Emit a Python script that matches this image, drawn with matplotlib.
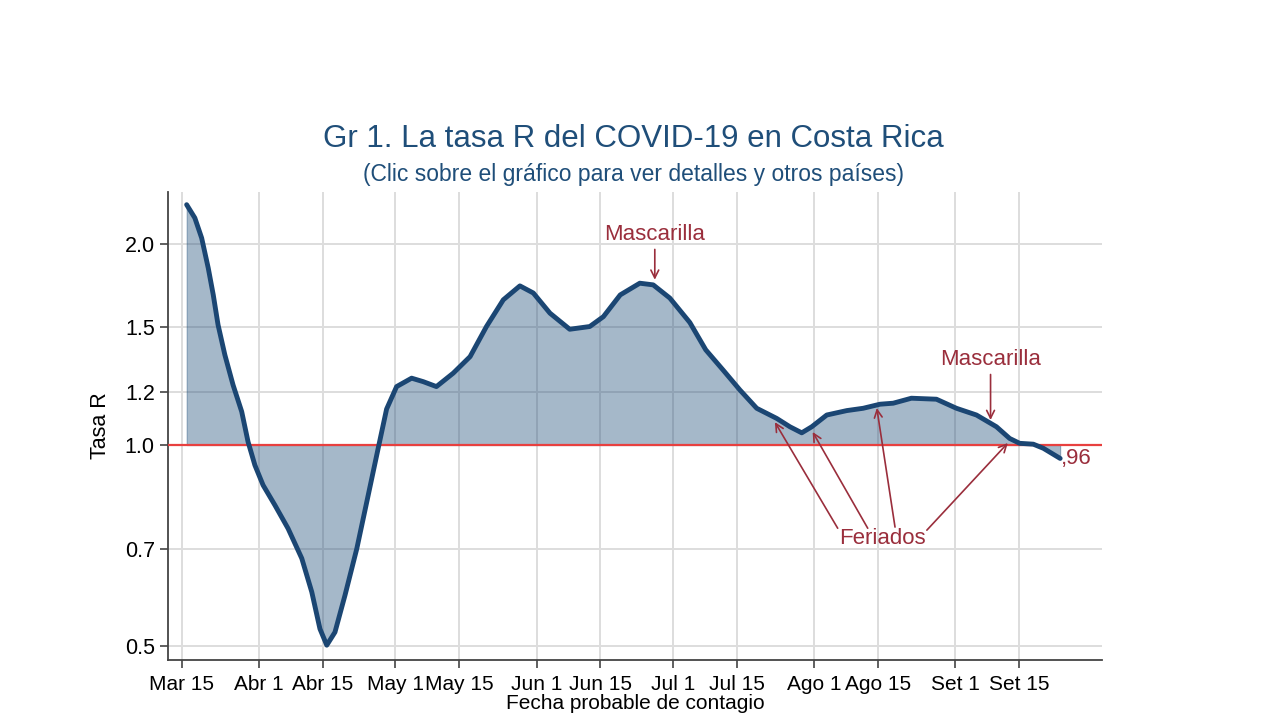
import matplotlib.pyplot as plt
from matplotlib.ticker import FixedLocator, FixedFormatter, NullLocator

plt.rcParams['font.family'] = ['Liberation Sans', 'DejaVu Sans']

# dias desde el 15 de marzo y tasa R
dias = [1.1, 2.9, 4.4, 5.85, 6.95, 8.0, 9.5, 11.3, 13.2, 14.6, 16.1, 17.9,
        20.5, 23.4, 26.4, 28.6, 30.4, 31.9, 33.7, 35.9, 38.5, 41.0, 43.2,
        45.05, 47.25, 50.55, 53.1, 56.0, 59.7, 63.4, 67.0, 70.7, 74.35,
        77.3, 80.95, 85.3, 89.7, 92.7, 96.4, 100.7, 103.65, 107.3, 111.7,
        115.2, 119.0, 122.7, 126.4, 130.8, 133.7, 136.3, 138.5, 141.8,
        146.2, 149.8, 153.5, 156.4, 160.4, 165.9, 170.3, 174.7, 179.1,
        182.0, 184.2, 187.2, 189.4, 193.1]
tasa_r = [2.288, 2.186, 2.040, 1.839, 1.677, 1.513, 1.364, 1.230, 1.122, 1.011,
          0.933, 0.871, 0.813, 0.750, 0.677, 0.603, 0.531, 0.502, 0.525, 0.596,
          0.700, 0.841, 0.989, 1.132, 1.223, 1.259, 1.244, 1.223, 1.281, 1.356,
          1.504, 1.649, 1.730, 1.688, 1.575, 1.490, 1.504, 1.556, 1.677, 1.746,
          1.736, 1.659, 1.525, 1.388, 1.295, 1.209, 1.135, 1.096, 1.065, 1.043,
          1.065, 1.109, 1.126, 1.135, 1.151, 1.155, 1.175, 1.171, 1.135, 1.109,
          1.065, 1.023, 1.006, 1.003, 0.989, 0.955]

tick_dias = [0, 17, 31, 47, 61, 78, 92, 108, 122, 139, 153, 170, 184]
tick_fechas = ["Mar 15", "Abr 1", "Abr 15", "May 1", "May 15", "Jun 1", "Jun 15",
               "Jul 1", "Jul 15", "Ago 1", "Ago 15", "Set 1", "Set 15"]
y_ticks = [0.5, 0.7, 1.0, 1.2, 1.5, 2.0]
y_etiquetas = ["0.5", "0.7", "1.0", "1.2", "1.5", "2.0"]

# anotaciones: (dia, punta de flecha, altura del texto)
mascarilla = [(104.0, 1.767, 2.063), (177.8, 1.090, 1.341)]
feriados_puntas = [(130.4, 1.082), (138.7, 1.046), (152.8, 1.136), (181.6, 1.007)]
feriados_colas = [(144.2, 0.751), (150.8, 0.751), (156.8, 0.754), (163.8, 0.746)]
feriados_texto = (154.0, 0.7257)
valor_final = 0.956

azul = '#1b4673'
rojo_osc = '#9a2e3c'

fig = plt.figure(figsize=(12.8, 7.2), dpi=100)
ax = fig.add_axes([0.13125, 0.0833, 0.7297, 0.65])

ax.fill_between(dias, tasa_r, 1.0, color='#1f4e79', alpha=0.4, lw=0.8)
ax.axhline(1.0, color='#e8403f', lw=1.6, zorder=3)
ax.plot(dias, tasa_r, color=azul, lw=3.5, zorder=4,
        solid_capstyle='round', solid_joinstyle='round')

ax.set_yscale('log')
ax.set_ylim(0.477, 2.39)
ax.set_xlim(-3, 202.3)
ax.yaxis.set_major_locator(FixedLocator(y_ticks))
ax.yaxis.set_major_formatter(FixedFormatter(y_etiquetas))
ax.yaxis.set_minor_locator(NullLocator())
ax.set_xticks(tick_dias)
ax.set_xticklabels(tick_fechas)

ax.grid(True, color='#dddddd', lw=1.4)
ax.set_axisbelow(True)
for s in ['top', 'right']:
    ax.spines[s].set_visible(False)
for s in ['left', 'bottom']:
    ax.spines[s].set_color('#444444')
    ax.spines[s].set_linewidth(1.3)
ax.tick_params(axis='both', labelsize=15.5, length=6, width=1.2, color='#444444')
ax.tick_params(axis='x', labelsize=15, pad=5)

ax.set_ylabel("Tasa R", fontsize=15.5, labelpad=10)
ax.set_xlabel("Fecha probable de contagio", fontsize=15, labelpad=0)

for d, punta, texto in mascarilla:
    ax.annotate("Mascarilla", xy=(d, punta), xytext=(d, texto), color=rojo_osc,
                fontsize=16, ha='center', va='center',
                arrowprops=dict(arrowstyle='->', color=rojo_osc, lw=1.2,
                                shrinkA=1, shrinkB=0, mutation_scale=14))

for (d, r), (dc, rc) in zip(feriados_puntas, feriados_colas):
    ax.annotate("", xy=(d, r), xytext=(dc, rc),
                arrowprops=dict(arrowstyle='->', color=rojo_osc, lw=1.2,
                                shrinkA=0, shrinkB=0, mutation_scale=14))
ax.text(feriados_texto[0], feriados_texto[1], "Feriados", color=rojo_osc,
        fontsize=16, ha='center', va='center')

ax.text(dias[-1] + 0.1, valor_final, ",96", color=rojo_osc, fontsize=16,
        ha='left', va='center')

fig.text(0.495, 0.807, "Gr 1. La tasa R del COVID-19 en Costa Rica",
         color='#1f4e79', fontsize=22.5, ha='center', va='center')
fig.text(0.495, 0.757, "(Clic sobre el gráfico para ver detalles y otros países)",
         color='#1f4e79', fontsize=16.5, ha='center', va='center')

fig.savefig("out.png", dpi=100)
